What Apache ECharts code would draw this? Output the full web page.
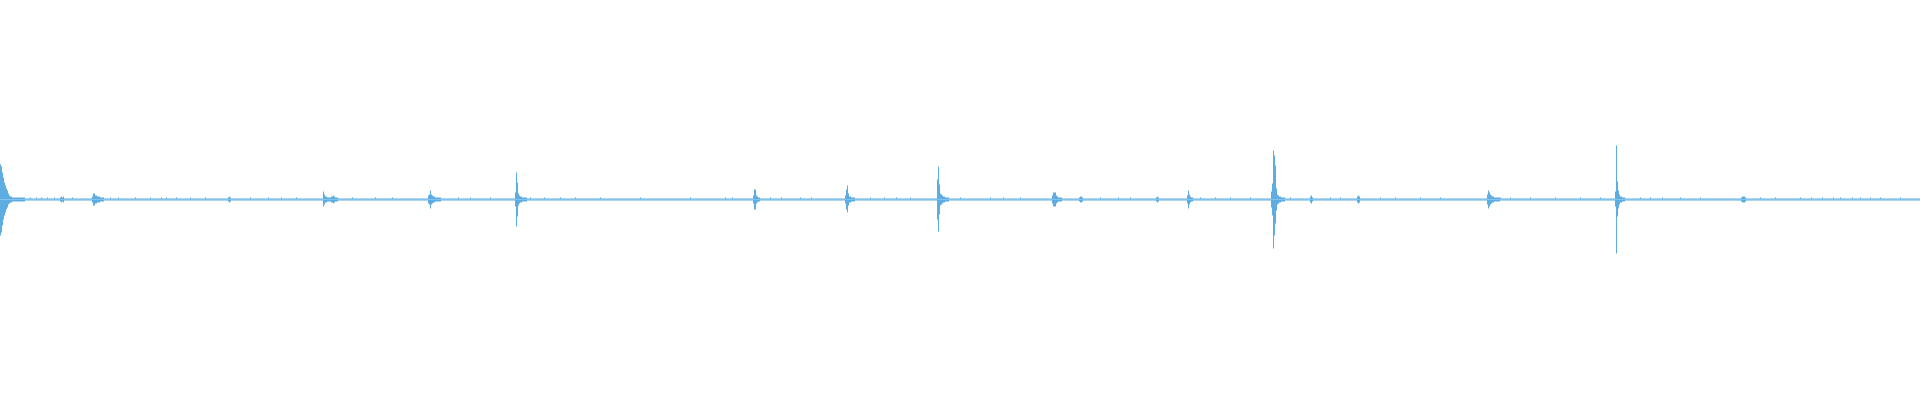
<!DOCTYPE html>
<html>
<head>
<meta charset="utf-8">
<script src="https://cdn.jsdelivr.net/npm/echarts@6/dist/echarts.min.js"></script>
<style>html,body{margin:0;padding:0;background:#fff}#c{width:1920px;height:400px}</style>
</head>
<body>
<div id="c"></div>
<script>
// Sample count (one per pixel column) and resting level of the waveform
const sampleCount = 1920;
const baseLevel = 1;

// Start column of each transient and its envelope (half-amplitude)
const eventStart = [0, 60, 92, 228, 323, 428, 515, 753, 845, 937, 1052, 1079, 1156, 1187, 1271, 1310, 1357, 1487, 1615, 1741];
const eventUp = [
  [35,33,27,22,17,14,11,9,6,4,3,3,2,2,2,2,2,2,2,2,2,2,2,2,2],
  [2,3,2,3],
  [3,6,6,4,4,3,3,3,2,2,2,2],
  [2,3,2],
  [8,5,3,3,2,2,2,2,3,3,4,3,2,2,2],
  [4,5,9,5,4,3,3,2,2,2,2,2,2],
  [7,27,17,6,4,3,3,2,2,2,2,2],
  [4,10,10,4,3,2,2],
  [4,10,14,6,3,3,2,2,2,2],
  [20,33,15,6,5,4,3,3,2,2,2,2],
  [4,7,7,7,4,3,2,2,2,2],
  [2,3,3,2],
  [2,3,2],
  [4,9,5,3,2,2],
  [8,16,49,44,34,11,5,4,3,3,2,2,2,2],
  [3,4,2],
  [3,4,3],
  [5,9,7,5,4,3,3,2,2,2,2,2,2,2],
  [8,54,18,9,5,3,3,2,2,2],
  [2,3,3,3,2]
];
const eventDown = [
  [36,33,26,20,16,13,10,8,5,4,3,3,2,2,2,2,2,2,2,2,2,2,2,2,2],
  [2,3,2,3],
  [3,6,6,4,4,3,3,3,2,2,2,2],
  [2,3,2],
  [7,5,3,3,2,2,2,2,3,3,4,3,2,2,2],
  [4,5,9,5,4,3,3,2,2,2,2,2,2],
  [7,27,17,6,4,3,3,2,2,2,2,2],
  [4,10,10,4,3,2,2],
  [4,10,13,6,3,3,2,2,2,2],
  [20,32,15,6,5,4,3,3,2,2,2,2],
  [4,7,7,7,4,3,2,2,2,2],
  [2,3,3,2],
  [2,3,2],
  [4,9,5,3,2,2],
  [8,16,49,36,24,11,5,4,3,3,2,2,2,2],
  [3,4,2],
  [3,4,3],
  [5,9,7,5,4,3,3,2,2,2,2,2,2],
  [7,54,17,9,5,3,3,2,2,2],
  [2,3,3,3,2]
];
// Small noise ticks on the resting line
const noiseX = [30,36,41,47,54,72,110,118,135,150,161,166,176,190,205,250,268,281,296,352,375,392,458,470,490,530,544,560,575,600,640,690,725,732,770,781,800,811,870,884,896,910,960,990,1003,1020,1100,1118,1130,1200,1215,1230,1250,1290,1330,1340,1380,1395,1420,1440,1510,1530,1555,1580,1600,1640,1650,1662,1680,1700,1760,1775,1800,1811,1822,1833,1840,1852,1860,1870,1880,1900];
const noiseLevel = 2;

const upper = new Array(sampleCount).fill(baseLevel);
const lower = new Array(sampleCount).fill(baseLevel);
noiseX.forEach(x => { upper[x] = Math.max(upper[x], noiseLevel); });
eventStart.forEach((x0, i) => {
  eventUp[i].forEach((a, k) => { if (x0 + k < sampleCount) upper[x0 + k] = Math.max(upper[x0 + k], a); });
  eventDown[i].forEach((a, k) => { if (x0 + k < sampleCount) lower[x0 + k] = Math.max(lower[x0 + k], a); });
});
const categories = upper.map((_, i) => i);

const chart = echarts.init(document.getElementById('c'), null, {renderer: 'canvas'});
chart.setOption({
  animation: false,
  backgroundColor: '#ffffff',
  grid: {left: 0, right: 0, top: 0, bottom: 0},
  xAxis: {type: 'category', data: categories, show: false, boundaryGap: true},
  yAxis: {type: 'value', min: -200.5, max: 199.5, show: false},
  series: [
    {type: 'bar', stack: 'w', data: upper, barWidth: 1, itemStyle: {color: '#5dade2'}, large: false},
    {type: 'bar', stack: 'w', data: lower.map(v => -v), barWidth: 1, itemStyle: {color: '#5dade2'}, large: false}
  ]
});
</script>
</body>
</html>
